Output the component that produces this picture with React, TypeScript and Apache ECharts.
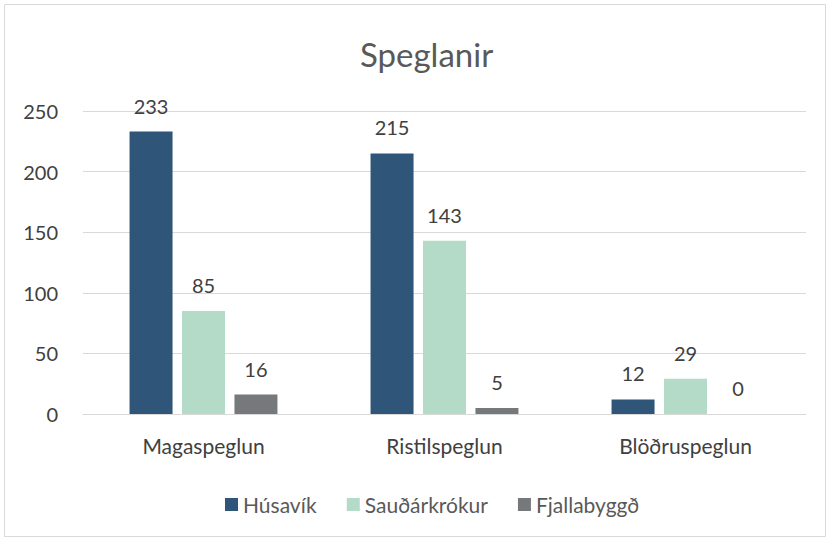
import React, { useEffect, useRef } from "react";
import * as echarts from "echarts";

const categories = ["Magaspeglun", "Ristilspeglun", "Blöðruspeglun"];
const seriesNames = ["Húsavík", "Sauðárkrókur", "Fjallabyggð"];
const husavik = [233, 215, 12];
const saudarkrokur = [85, 143, 29];
const fjallabyggd = [16, 5, 0];
const colors = ["#2F5579", "#B3DBC8", "#76797C"];

const FONT = "Lato, 'Open Sans', sans-serif";

export default function App() {
  const ref = useRef<HTMLDivElement>(null);
  useEffect(() => {
    const chart = echarts.init(ref.current!, undefined, { renderer: "svg" });
    const values = [husavik, saudarkrokur, fjallabyggd];
    chart.setOption({
      animation: false,
      backgroundColor: "#ffffff",
      textStyle: { fontFamily: FONT },
      title: {
        text: "Speglanir",
        left: 355,
        top: 32,
        textStyle: { fontFamily: FONT, fontSize: 33, fontWeight: "normal", color: "#595959" },
      },
      legend: {
        top: 489,
        left: 220,
        itemWidth: 13,
        itemHeight: 13,
        itemGap: 30,
        icon: "rect",
        textStyle: { fontFamily: FONT, fontSize: 21, color: "#595959" },
        data: seriesNames,
      },
      grid: { left: 83, right: 22, top: 111, bottom: 126, containLabel: false },
      xAxis: {
        type: "category",
        data: categories,
        axisLine: { show: true, lineStyle: { color: "#D9D9D9", width: 1 } },
        axisTick: { show: false },
        axisLabel: { fontFamily: FONT, fontSize: 21, color: "#404040", margin: 21 },
      },
      yAxis: {
        type: "value",
        min: 0,
        max: 250,
        interval: 50,
        axisLine: { show: false },
        axisTick: { show: false },
        splitLine: { lineStyle: { color: "#D9D9D9", width: 1 } },
        axisLabel: { fontFamily: FONT, fontSize: 20, color: "#404040", margin: 25 },
      },
      graphic: [
        {
          type: "rect",
          shape: { x: 4.5, y: 4.5, width: 821, height: 532 },
          style: { fill: "none", stroke: "#D9D9D9", lineWidth: 1 },
          silent: true,
        },
      ],
      series: seriesNames.map((name, i) => ({
        name,
        type: "bar",
        data: values[i],
        barWidth: 43,
        barGap: "22%",
        itemStyle: { color: colors[i] },
        label: {
          show: true,
          position: "top",
          distance: 16,
          fontFamily: FONT,
          fontSize: 20,
          color: "#404040",
        },
      })),
    });
    return () => chart.dispose();
  }, []);
  return (
    <div
      ref={ref}
      style={{ position: "fixed", left: 0, top: 0, width: 828, height: 540 }}
    />
  );
}
